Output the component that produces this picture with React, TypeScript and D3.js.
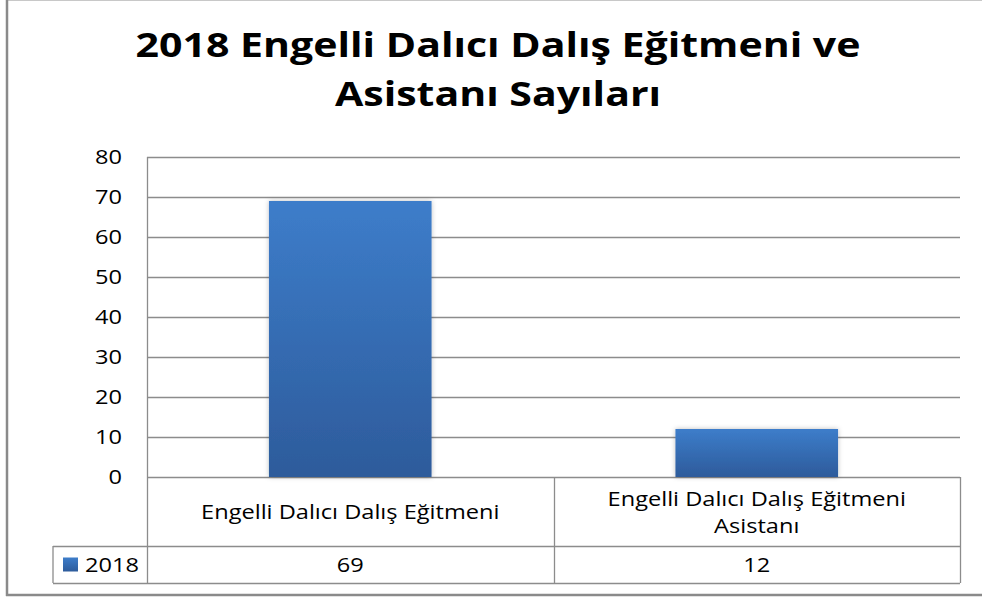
import { useEffect, useRef } from 'react';
import * as d3 from 'd3';

const categories = ['Engelli Dalıcı Dalış Eğitmeni', 'Engelli Dalıcı Dalış Eğitmeni Asistanı'];
const categoryLines = [['Engelli Dalıcı Dalış Eğitmeni'], ['Engelli Dalıcı Dalış Eğitmeni', 'Asistanı']];
const seriesName = '2018';
const values = [69, 12];
const yTicks = [0, 10, 20, 30, 40, 50, 60, 70, 80];
const titleLines = ['2018 Engelli Dalıcı Dalış Eğitmeni ve', 'Asistanı Sayıları'];

const W = 982;
const H = 599;
const FONT = "'Open Sans', 'DejaVu Sans', sans-serif";
const SX = 1.18; // reference text is a little wide for Open Sans

export default function App() {
  const svgRef = useRef<SVGSVGElement>(null);

  useEffect(() => {
    if (!svgRef.current) return;
    const svg = d3.select(svgRef.current);
    svg.selectAll('*').remove();

    const plot = { left: 147, right: 960, top: 157, bottom: 477 };
    const table = { legendLeft: 53, catBottom: 546, bottom: 583 };
    const gridColor = '#8c8c8c';

    // text anchored at (x, y), stretched horizontally
    const label = (x: number, y: number, txt: string | number, size: number, anchor = 'middle', weight = 400) =>
      svg.append('text')
        .attr('transform', `translate(${x},${y}) scale(${SX},1)`)
        .attr('text-anchor', anchor)
        .style('font-family', FONT).style('font-size', `${size}px`).style('font-weight', weight)
        .attr('fill', '#000')
        .text(txt);

    // Frame
    svg.append('rect').attr('width', W).attr('height', H).attr('fill', '#fff');
    svg.append('line').attr('x1', 8).attr('x2', W).attr('y1', 0.5).attr('y2', 0.5)
      .attr('stroke', '#c8c8c8').attr('stroke-width', 1);
    svg.append('line').attr('x1', 7).attr('x2', 7).attr('y1', 0).attr('y2', 596)
      .attr('stroke', '#8a8a8a').attr('stroke-width', 2.5);
    svg.append('line').attr('x1', 6).attr('x2', W).attr('y1', 595).attr('y2', 595)
      .attr('stroke', '#8a8a8a').attr('stroke-width', 2.5);

    const defs = svg.append('defs');
    const grad = defs.append('linearGradient').attr('id', 'barGrad')
      .attr('x1', 0).attr('y1', 0).attr('x2', 0).attr('y2', 1);
    grad.append('stop').attr('offset', '0%').attr('stop-color', '#3d7dca');
    grad.append('stop').attr('offset', '100%').attr('stop-color', '#2d5b9b');
    const shadow = defs.append('filter').attr('id', 'shadow')
      .attr('x', '-10%').attr('y', '-10%').attr('width', '120%').attr('height', '120%');
    shadow.append('feDropShadow').attr('dx', 0).attr('dy', 0).attr('stdDeviation', 2.5)
      .attr('flood-color', '#000').attr('flood-opacity', 0.25);

    // Title
    titleLines.forEach((l, i) => label(498, 57 + i * 49, l, 34.8, 'middle', 700));

    const y = d3.scaleLinear().domain([0, 80]).range([plot.bottom, plot.top]);
    const x = d3.scaleBand<string>().domain(categories)
      .range([plot.left, plot.right]).paddingInner(0.6).paddingOuter(0.3);
    const col = d3.scaleBand<string>().domain(categories).range([plot.left, plot.right]).padding(0);

    // Gridlines
    svg.append('g').selectAll('line').data(yTicks).enter().append('line')
      .attr('x1', plot.left).attr('x2', plot.right)
      .attr('y1', d => Math.round(y(d)) + 0.5).attr('y2', d => Math.round(y(d)) + 0.5)
      .attr('stroke', gridColor).attr('stroke-width', 1.3);

    // Y axis labels
    yTicks.forEach(d => label(122, y(d) + 7, d, 20, 'end'));

    // Bars
    svg.append('g').selectAll('rect').data(values).enter().append('rect')
      .attr('x', (_, i) => x(categories[i]) ?? 0)
      .attr('width', x.bandwidth())
      .attr('y', d => y(d))
      .attr('height', d => plot.bottom - y(d))
      .attr('fill', 'url(#barGrad)')
      .attr('filter', 'url(#shadow)');

    // Data table lines
    const t = svg.append('g').attr('stroke', gridColor).attr('stroke-width', 1.3).attr('fill', 'none');
    t.append('line').attr('x1', plot.left + 0.5).attr('x2', plot.left + 0.5)
      .attr('y1', plot.top).attr('y2', table.bottom);
    categories.forEach(c => {
      const xe = Math.round((col(c) ?? 0) + col.bandwidth()) + 0.5;
      t.append('line').attr('x1', xe).attr('x2', xe).attr('y1', plot.bottom).attr('y2', table.bottom);
    });
    t.append('line').attr('x1', table.legendLeft).attr('x2', table.legendLeft)
      .attr('y1', table.catBottom).attr('y2', table.bottom);
    t.append('line').attr('x1', table.legendLeft).attr('x2', plot.right)
      .attr('y1', table.catBottom + 0.5).attr('y2', table.catBottom + 0.5);
    t.append('line').attr('x1', table.legendLeft).attr('x2', plot.right)
      .attr('y1', table.bottom + 0.5).attr('y2', table.bottom + 0.5);

    // Category labels and values
    const catMid = (plot.bottom + table.catBottom) / 2;
    const rowMid = (table.catBottom + table.bottom) / 2;
    categories.forEach((c, i) => {
      const cx = (col(c) ?? 0) + col.bandwidth() / 2;
      const lines = categoryLines[i];
      const lh = 27;
      lines.forEach((l, k) =>
        label(cx, catMid + (k - (lines.length - 1) / 2) * lh + 7.5, l, 20));
      label(cx, rowMid + 7.5, values[i], 20);
    });

    // Legend key
    svg.append('rect').attr('x', 63).attr('y', rowMid - 7).attr('width', 15).attr('height', 14)
      .attr('fill', 'url(#barGrad)');
    label(85, rowMid + 7.5, seriesName, 20, 'start');
  }, []);

  return (
    <svg ref={svgRef} width={W} height={H}
      style={{ position: 'absolute', left: 0, top: 0, display: 'block' }} />
  );
}
